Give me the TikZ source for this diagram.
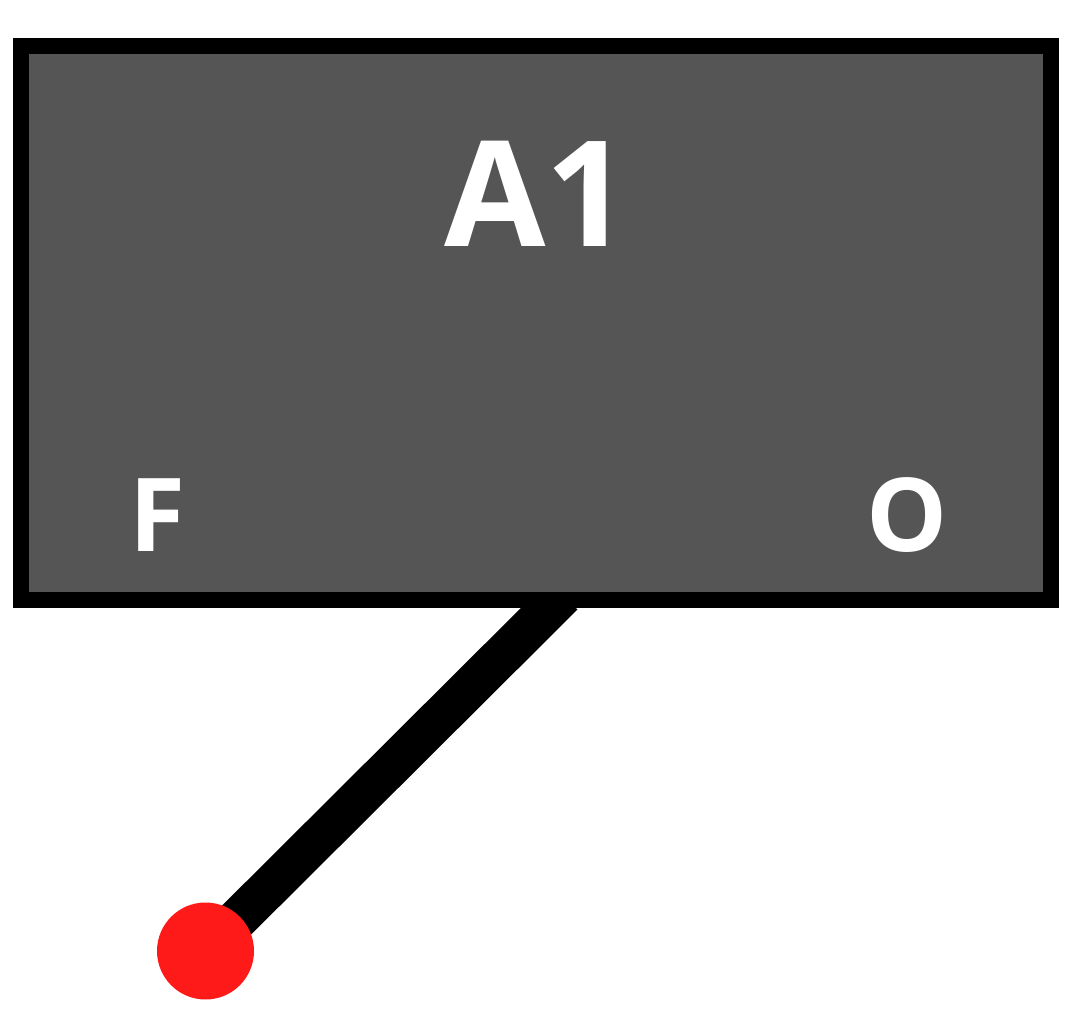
\documentclass[tikz,border=0pt]{standalone}
\usepackage{fontspec}
\setmainfont{Open Sans}[BoldFont={* Bold}]
\definecolor{panelgray}{HTML}{555555}
\definecolor{knobred}{HTML}{FF1A1A}
\tikzset{
  label/.style={text=white, font=\bfseries, inner sep=0pt, anchor=base},
}
\begin{document}
\begin{tikzpicture}[x=1pt, y=-1pt]
			%%%%% FRAME %%%%%
			\useasboundingbox (0, 0) rectangle (1074, 1014);
			
			\coordinate (pivot) at (563, 595);
			\coordinate (knobpos) at (205.5, 951);
			
			% lever behind the box
			\draw[line width=41pt] (pivot) -- (knobpos);
			
			\node[draw=black, line width=16pt, fill=panelgray, minimum width=1030pt, minimum height=554pt, inner sep=0pt] (box) at (536, 323) {};
			
			\node[label, font=\bfseries\fontsize{147}{147}\selectfont] (name) at (537, 246) {A1};
			\node[label, font=\bfseries\fontsize{102}{102}\selectfont] (off) at (157, 551) {F};
			\node[label, font=\bfseries\fontsize{102}{102}\selectfont] (on) at (907.5, 551) {O};
			
			\node[circle, fill=knobred, minimum size=97pt, inner sep=0pt] (knob) at (knobpos) {};
			%%%%% END %%%%%
\end{tikzpicture}
\end{document}
